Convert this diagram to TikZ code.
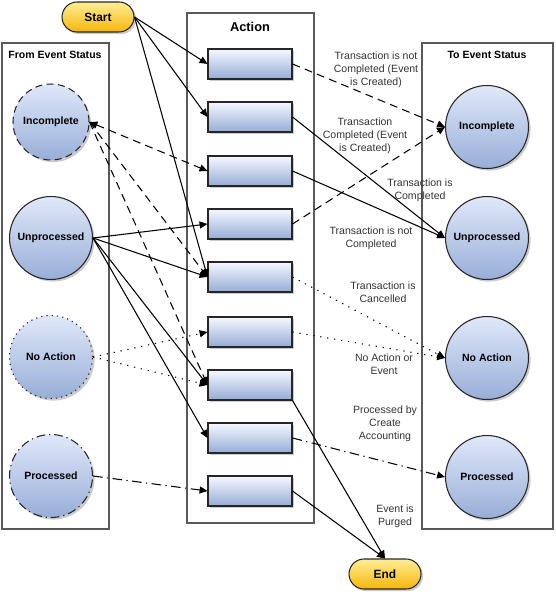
\documentclass[tikz,border=0pt]{standalone}
\usepackage{fontspec}
\setmainfont{Liberation Sans}
\usetikzlibrary{arrows.meta,shadows}

\definecolor{circtop}{RGB}{224,232,249}
\definecolor{circbot}{RGB}{152,174,216}
\definecolor{boxtop}{RGB}{246,248,254}
\definecolor{boxbot}{RGB}{150,172,214}
\definecolor{pilltop}{RGB}{255,238,150}
\definecolor{pillbot}{RGB}{246,182,10}
\definecolor{framegray}{RGB}{90,90,90}

\tikzset{
  status/.style={circle,draw=black!85,line width=0.6pt,minimum size=1.66cm,inner sep=0pt,
    top color=circtop,bottom color=circbot,
    drop shadow={shadow xshift=1.2pt,shadow yshift=-1.2pt,fill=black,opacity=0.2},
    font=\fontsize{6}{7}\selectfont\bfseries},
  actbox/.style={rectangle,draw=black!85,line width=0.6pt,minimum width=1.68cm,minimum height=0.6cm,
    top color=boxtop,bottom color=boxbot,
    drop shadow={shadow xshift=1.2pt,shadow yshift=-1.2pt,fill=black,opacity=0.2}},
  terminal/.style={rectangle,rounded corners=0.3cm,draw=black!85,line width=0.6pt,
    minimum width=1.44cm,minimum height=0.6cm,top color=pilltop,bottom color=pillbot,
    drop shadow={shadow xshift=1.2pt,shadow yshift=-1.2pt,fill=black,opacity=0.2},
    font=\fontsize{6.8}{8}\selectfont\bfseries},
  column/.style={draw=framegray,line width=0.6pt},
  heading/.style={font=\fontsize{6}{7}\selectfont\bfseries},
  cond/.style={align=center,text=black!80,font=\fontsize{6}{7.3}\selectfont},
  flow/.style={line width=0.6pt,-{Triangle[length=4.5pt,width=4pt]}},
  dashflow/.style={flow,dash pattern=on 4.5pt off 3pt},
  dotflow/.style={flow,dash pattern=on 0.7pt off 3.3pt},
  dashdotflow/.style={flow,dash pattern=on 5.5pt off 2.5pt on 0.7pt off 2.5pt}
}

\begin{document}
\begin{tikzpicture}[x=0.02cm,y=-0.02cm]
  \useasboundingbox (0,0) rectangle (555,594);

  % Draw columns
  \draw[column] (2,43) rectangle (109,529);
  \draw[column] (187,13) rectangle (314,523);
  \draw[column] (422,43) rectangle (553,529);

  % Column headings
  \node[heading] (fromhead) at (55,55) {From Event Status};
  \node[font=\fontsize{7.3}{8}\selectfont\bfseries] (acthead) at (250,27) {Action};
  \node[heading] (tohead) at (487,55) {To Event Status};

  % Start and end
  \node[terminal] (start) at (98,17) {Start};
  \node[terminal] (finish) at (385,574) {End};

  % From event status
  \node[status,minimum size=1.52cm,dash pattern=on 4pt off 2.5pt] (fromInc) at (51,122) {Incomplete};
  \node[status] (fromUnp) at (51,238) {Unprocessed};
  \node[status,dash pattern=on 0.7pt off 2.3pt] (fromNoAct) at (51,357) {No Action};
  \node[status,dash pattern=on 5pt off 2.2pt on 0.7pt off 2.2pt] (fromProc) at (51,476) {Processed};

  % Actions
  \foreach \i/\y in {1/64,2/117,3/171,4/224,5/277,6/332,7/385,8/438,9/491}
    \node[actbox] (act\i) at (250,\y) {};

  % To event status
  \node[status] (toInc) at (487,127) {Incomplete};
  \node[status] (toUnp) at (487,238) {Unprocessed};
  \node[status] (toNoAct) at (487,358) {No Action};
  \node[status] (toProc) at (487,477) {Processed};

  % Start into actions
  \foreach \i in {1,2,5}
    \draw[flow] (start.east) -- (act\i.west);

  % From event status into actions
  \draw[dashflow,{Triangle[length=4.5pt,width=4pt]}-{Triangle[length=4.5pt,width=4pt]}] (fromInc.east) -- (act3.west);
  \foreach \i in {5,7}
    \draw[dashflow] (fromInc.east) -- (act\i.west);
  \foreach \i in {4,5,7,8}
    \draw[flow] (fromUnp.east) -- (act\i.west);
  \foreach \i in {6,7}
    \draw[dotflow] (fromNoAct.east) -- (act\i.west);
  \draw[dashdotflow] (fromProc.east) -- (act9.west);

  % Actions into to event status
  \foreach \i in {1,4}
    \draw[dashflow] (act\i.east) -- (toInc.west);
  \foreach \i in {2,3}
    \draw[flow] (act\i.east) -- (toUnp.west);
  \foreach \i in {5,6}
    \draw[dotflow] (act\i.east) -- (toNoAct.west);
  \draw[dashdotflow] (act8.east) -- (toProc.west);
  \draw[flow] (act7.south east) -- (finish.north);
  \draw[flow] (act9.east) -- (finish.north);

  % Label conditions
  \node[cond] (c1) at (376,70) {Transaction is not\\Completed (Event\\is Created)};
  \node[cond] (c2) at (365,136) {Transaction\\Completed (Event\\is Created)};
  \node[cond] (c3) at (420,190) {Transaction is\\Completed};
  \node[cond] (c4) at (371,238) {Transaction is not\\Completed};
  \node[cond] (c5) at (383,292) {Transaction is\\Cancelled};
  \node[cond] (c6) at (384,364) {No Action or\\Event};
  \node[cond] (c7) at (385,424) {Processed by\\Create\\Accounting};
  \node[cond] (c8) at (395,516) {Event is\\Purged};
\end{tikzpicture}
\end{document}
